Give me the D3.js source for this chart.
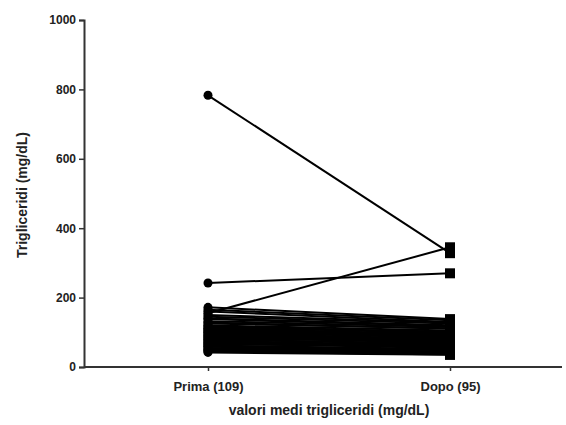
<!DOCTYPE html>
<html><head><meta charset="utf-8">
<script src="https://cdn.jsdelivr.net/npm/d3@7"></script>
<style>body{margin:0;background:#fff;} text{font-family:"Liberation Sans",Arial,sans-serif;font-weight:bold;fill:#222;}</style>
</head><body>
<svg id="c" width="566" height="425"></svg>
<script>
const categories = ["Prima (109)", "Dopo (95)"];
const prima = [783, 242, 155, 172, 165, 160, 150, 145, 140, 138, 132, 128, 125, 120, 118, 115, 112, 110, 108, 105, 102, 100, 98, 95, 92, 90, 88, 85, 82, 80, 78, 75, 72, 70, 68, 65, 62, 60, 58, 55, 52, 50, 48, 45, 42];
const dopo  = [328, 270, 345, 138, 135, 130, 128, 125, 120, 118, 115, 110, 112, 105, 100, 98, 102, 95, 92, 90, 88, 85, 80, 82, 78, 75, 72, 70, 74, 65, 68, 62, 60, 58, 55, 60, 52, 50, 48, 45, 42, 40, 38, 36, 35];
const yTicks = [0, 200, 400, 600, 800, 1000];
const yTitle = "Trigliceridi (mg/dL)";
const xTitle = "valori medi trigliceridi (mg/dL)";

const svg = d3.select("#c");
const x = d3.scalePoint().domain(categories).range([208, 450]);
const y = d3.scaleLinear().domain([0, 1000]).range([367, 20]);

const yAxis = svg.append("g").attr("transform", "translate(84,0)")
  .call(d3.axisLeft(y).tickValues(yTicks).tickFormat(d3.format("d")).tickSize(5).tickPadding(3));
yAxis.select(".domain").attr("stroke", "#333").attr("stroke-width", 2);
yAxis.selectAll(".tick line").attr("stroke", "#333").attr("stroke-width", 1.5);
yAxis.selectAll("text").style("font-size", "12px").attr("fill", "#222");

const xs = d3.scaleLinear().domain([0,1]).range([84, 562]);
svg.append("line").attr("x1", xs(0)).attr("x2", xs(1)).attr("y1", y(0)).attr("y2", y(0))
  .attr("stroke", "#333").attr("stroke-width", 2);
const xAxis = svg.append("g").attr("transform", `translate(0,${y(0)})`)
  .call(d3.axisBottom(x).tickSize(4).tickPadding(11));
xAxis.select(".domain").remove();
xAxis.selectAll(".tick line").attr("stroke", "#333").attr("stroke-width", 1.5);
xAxis.selectAll("text").style("font-size", "13px").attr("fill", "#222");

const pairs = prima.map((p, i) => [p, dopo[i]]);
const line = d3.line().x((d, i) => x(categories[i])).y(d => y(d));
svg.append("g").selectAll("path").data(pairs).join("path")
  .attr("d", d => line(d)).attr("fill", "none").attr("stroke", "#000").attr("stroke-width", 2);

svg.append("g").selectAll("circle").data(prima).join("circle")
  .attr("cx", x(categories[0])).attr("cy", d => y(d)).attr("r", 4.5).attr("fill", "#000");
svg.append("g").selectAll("rect").data(dopo).join("rect")
  .attr("x", x(categories[1]) - 5).attr("y", d => y(d) - 5).attr("width", 10).attr("height", 10).attr("fill", "#000");

svg.append("text").attr("transform", "translate(27,195) rotate(-90)").attr("text-anchor", "middle")
  .style("font-size", "14px").text(yTitle);
svg.append("text").attr("x", 329).attr("y", 415).attr("text-anchor", "middle")
  .style("font-size", "14px").text(xTitle);
</script>
</body></html>
